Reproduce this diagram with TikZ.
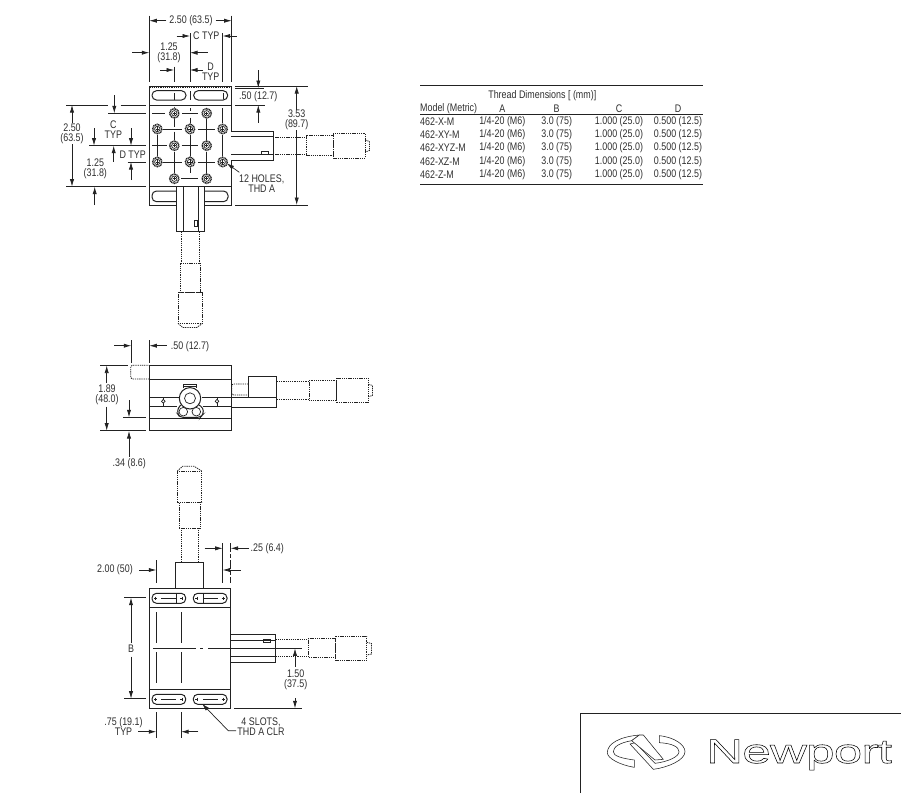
\documentclass[tikz,border=0pt]{standalone}
\usepackage{fontspec}
\setmainfont[FakeStretch=0.81]{Liberation Sans}
\newfontfamily\logofont[FakeStretch=1.5,FakeBold=1.6,LetterSpace=-2]{Liberation Sans}
\usetikzlibrary{arrows.meta}
\definecolor{ink}{HTML}{222222}
\definecolor{txt}{HTML}{2E2E2E}
\tikzset{
 x=1pt,y=-1pt,
 ln/.style={draw=ink,line width=0.7pt},
 thick line/.style={draw=ink,line width=1pt},
 dsh/.style={draw=ink,line width=0.8pt,dash pattern=on 1.3pt off 0.9pt},
 cl/.style={draw=ink,line width=0.8pt},
 dim/.style={draw=ink,line width=0.7pt,-{Latex[length=7.5pt,width=4.2pt]}},
 lbl/.style={inner sep=0pt,text=txt,font=\fontsize{11}{10}\selectfont,align=center},
 tbl/.style={inner sep=0pt,text=txt,font=\fontsize{11}{10}\selectfont},
 logoline/.style={draw=ink,line width=0.55pt,line join=round,fill=white},
}
\newcommand{\slotbox}[4]{\draw[thick line,rounded corners=4.5pt] (#1,#3) rectangle (#2,#4);}
\begin{document}
\begin{tikzpicture}
\useasboundingbox (0,0) rectangle (901,793);
% ---------- TOP VIEW ----------
\draw[thick line] (149.3,86) rectangle (231.5,205);
\draw[thick line] (149.3,105) -- (231.5,105) (149.3,186.7) -- (231.5,186.7);
\draw[dsh] (149.3,87.6) -- (231.5,87.6);
\slotbox{152}{186}{90.7}{100}
\slotbox{193.7}{227.7}{90.7}{100}
\draw[thick line,rounded corners=4.5pt] (176.7,191) -- (152,191) -- (152,201.7) -- (176.7,201.7);
\draw[thick line,rounded corners=4.5pt] (203.5,191) -- (228,191) -- (228,201.7) -- (203.5,201.7);
\draw[cl] (190,91) -- (190,100) (174.3,93) -- (174.3,100) (223,93) -- (223,98.5);
\draw[cl] (152,113.3) -- (165,113.3) (182.3,113.3) -- (198.3,113.3)
 (163.3,129) -- (181.7,129) (198.3,129) -- (215,129)
 (152,145.7) -- (166.7,145.7) (181.7,145.7) -- (198.3,145.7)
 (163.3,162) -- (181.7,162) (198.3,162) -- (215,162)
 (181,178.7) -- (198.3,178.7)
 (174.3,106.5) -- (174.3,109) (174.3,118) -- (174.3,127) (174.3,131.7) -- (174.3,140) (174.3,151.7) -- (174.3,173)
 (190,108) -- (190,111) (190,117.7) -- (190,124) (190,135) -- (190,156.7) (190,166.7) -- (190,173)
 (206.7,117) -- (206.7,140) (206.7,151.7) -- (206.7,173)
 (157.3,135) -- (157.3,156.7)
 (222.7,108) -- (222.7,123.3) (222.7,135) -- (222.7,156.7);
\foreach \hx/\hy in {174.3/113.3,206.7/113.3,157.3/129,190/129,222.7/129,174.3/145.7,206.7/145.7,157.3/162,190/162,222.7/162,174.3/178.7,206.7/178.7}{
 \fill[white] (\hx,\hy) circle[radius=5.6];
 \draw[draw=ink,line width=1.5pt,dash pattern=on 1pt off 0.6pt] (\hx,\hy) circle[radius=4.7];
 \draw[draw=ink,line width=0.7pt] (\hx,\hy) circle[radius=2.7];
 \draw[draw=ink,line width=0.6pt] (\hx-1.6,\hy) -- (\hx+1.6,\hy) (\hx,\hy-1.6) -- (\hx,\hy+1.6);
}
% right actuator
\fill[white] (231,131.7) rectangle (273,160.3);
\draw[thick line] (231,131.7) -- (273,131.7) -- (273,160.3) -- (231,160.3);
\draw[ln] (231,136.7) -- (273,136.7) (231,154.5) -- (273,154.5);
\draw[ln] (261,151.3) rectangle (268,154.5);
\draw[dsh] (273,137) -- (306.7,137) (273,154.3) -- (306.7,154.3);
\draw[dsh] (306.7,135.3) rectangle (333.3,155.7);
\draw[dsh] (333.3,133.7) rectangle (365.3,158);
\draw[dsh] (365.3,140) -- (369.5,141.5) -- (369.5,150.5) -- (365.3,152);
% lower actuator
\fill[white] (176.7,187.2) rectangle (204,231.7);
\draw[thick line] (176.7,187.2) -- (176.7,231.7) -- (204,231.7) -- (204,187.2);
\draw[ln] (183.3,187.2) -- (183.3,231.7) (198.7,187.2) -- (198.7,231.7);
\draw[ln] (194.3,220) rectangle (197.7,226.7);
\draw[dsh] (181.7,231.7) -- (181.7,263.3) (199.3,231.7) -- (199.3,263.3);
\draw[dsh] (180.3,263.3) rectangle (200.7,292);
\draw[dsh] (178,292) rectangle (202.7,323.3);
\draw[dsh] (178,323.3) -- (182.7,327.5) -- (196.7,327.5) -- (202.7,323.3);
% top-view dimensions
\draw[ln] (149.3,15.7) -- (149.3,81.7) (231.7,15.7) -- (231.7,81.7) (190,33) -- (190,81.7) (222.7,33) -- (222.7,81.7) (174,66.7) -- (174,81.7);
\node[lbl] (w250) at (191,20.7) {2.50 (63.5)};
\draw[dim] (w250.west)+(-3,0) -- (149.3,20.7);
\draw[dim] (w250.east)+(3,0) -- (231.7,20.7);
\node[lbl] (ctyp) at (206.3,36) {C TYP};
\draw[dim] (176.7,36) -- (190,36);
\draw[dim] (236.7,36) -- (222.7,36);
\node[lbl] (w125) at (169,52.5) {1.25\\(31.8)};
\draw[dim] (132.3,52.7) -- (149.3,52.7);
\draw[dim] (207.7,52.7) -- (190,52.7);
\node[lbl] (dtyp) at (210.7,71.3) {D\\TYP};
\draw[dim] (160,70) -- (174,70);
\draw[dim] (203,70) -- (190,70);
\draw[ln] (235,86) -- (308,86) (235,88) -- (264,88) (235,105) -- (265,105) (235,205) -- (308,205);
\node[lbl] (h50) at (258.3,96.7) {.50 (12.7)};
\draw[dim] (258.3,70) -- (258.3,88);
\draw[dim] (258.3,122.7) -- (258.3,105);
\node[fill=white,inner sep=1pt,lbl] (h353) at (296.7,119.7) {3.53\\(89.7)};
\draw[dim] (296.7,110) -- (296.7,86);
\draw[dim] (296.7,130) -- (296.7,205);
\draw[ln] (66,105) -- (108,105) (120.7,105) -- (145.7,105) (66,186.7) -- (145.7,186.7) (108,113.3) -- (145.7,113.3) (89.3,145.7) -- (145.7,145.7) (127.7,162) -- (145.7,162);
\node[lbl] (h250) at (72,133.7) {2.50\\(63.5)};
\draw[dim] (72,123) -- (72,105);
\draw[dim] (72,144) -- (72,186.7);
\draw[dim] (114.3,95) -- (114.3,113.3);
\node[lbl] (cleft) at (113.3,129.5) {C\\TYP};
\draw[dim] (94,128.3) -- (94,145.7);
\draw[dim] (131,128.3) -- (131,145.7);
\draw[dim] (113.7,161.7) -- (113.7,145.7);
\node[lbl] (dleft) at (132.7,154.3) {D TYP};
\draw[dim] (131,180) -- (131,162);
\node[lbl] (h125) at (95.3,168.7) {1.25\\(31.8)};
\draw[dim] (94.7,205) -- (94.7,186.7);
\node[lbl] (holes) at (261.7,183.7) {12 HOLES,\\THD A};
\draw[dim] (239.3,172.3) -- (226.7,163.3);
% ---------- SIDE VIEW ----------
\draw[thick line] (149.3,365.3) rectangle (231.3,430.7);
\draw[ln] (149.3,379) -- (231.3,379) (149.3,418.3) -- (231.3,418.3);
\draw[thick line] (149.3,397.3) -- (179,397.3) (201.7,397.3) -- (276.7,397.3);
\draw[ln] (149.3,406.3) -- (177,406.3) (202.7,406.3) -- (231.3,406.3);
\draw[dsh,rounded corners=1.5pt] (149.3,379) -- (130.7,379) -- (130.7,365.3) -- (149.3,365.3);
\draw[thick line,fill=white,rounded corners=3pt] (181,405) -- (177.7,408) -- (177.7,414) -- (180,417.3) -- (200.5,417.3) -- (203.3,414) -- (203.3,408) -- (199,405);
\draw[thick line] (183.3,388) -- (183.3,384.3) -- (196.7,384.3) -- (196.7,388) (183.3,386.6) -- (196.7,386.6);
\draw[thick line,fill=white] (190,398.3) circle[radius=10.7];
\draw[ln] (190,398.3) circle[radius=5.5];
\draw[ln,fill=white] (183.3,411.7) circle[radius=4.3] (196.3,411.7) circle[radius=4.3];
\foreach \dx in {163.3,217}{
 \draw[ln] (\dx,397.3) -- (\dx,406.3);
 \draw[ln,fill=white] (\dx,399.4) -- (\dx+1.8,401.3) -- (\dx,403.2) -- (\dx-1.8,401.3) -- cycle;
}
\draw[thick line] (231.3,407.3) -- (276.7,407.3) -- (276.7,376.3) -- (248.3,376.3) -- (248.3,397.3);
\draw[dsh,rounded corners=2pt] (248.3,384) -- (231.7,384) -- (231.7,395) -- (248.3,395);
\draw[dsh] (276.7,381.7) -- (309,381.7) (276.7,399) -- (309,399);
\draw[dsh] (309,380) rectangle (336.7,400.3);
\draw[dsh] (336.7,378) rectangle (368.3,402.3);
\draw[dsh] (368.3,384.3) -- (372.5,385.5) -- (372.5,395.5) -- (368.3,396.7);
% side dimensions
\draw[ln] (131.3,340) -- (131.3,362.7) (149.3,340) -- (149.3,362.7) (100,365.3) -- (128,365.3) (100,430.7) -- (145.7,430.7) (123.3,417.3) -- (145.7,417.3);
\node[lbl] (s50) at (190,346.7) {.50 (12.7)};
\draw[dim] (114.3,345.7) -- (131.3,345.7);
\draw[dim] (166.7,345.7) -- (149.3,345.7);
\node[lbl] (s189) at (107,395.2) {1.89\\(48.0)};
\draw[dim] (106.7,383) -- (106.7,365.5);
\draw[dim] (106.7,406.7) -- (106.7,430.7);
\draw[dim] (129,400) -- (129,417.3);
\draw[dim] (129,456.7) -- (129,431);
\node[lbl] (s34) at (129.3,463.3) {.34 (8.6)};
% ---------- BOTTOM VIEW ----------
\draw[thick line] (149,588.7) rectangle (230.7,708.3);
\draw[thick line] (149,607.3) -- (230.7,607.3) (149,689) -- (230.7,689);
\foreach \sy/\sb in {593.3/603.3,694.3/704.3}{
 \slotbox{152}{185.7}{\sy}{\sb}
 \slotbox{193.3}{227}{\sy}{\sb}
 \draw[cl] (161,\sy/2+\sb/2) -- (176,\sy/2+\sb/2) (203,\sy/2+\sb/2) -- (217.5,\sy/2+\sb/2);
 \foreach \cx in {155.5,181.8,196.8,223.3}{
  \draw[draw=ink,line width=0.6pt] (\cx-1.6,\sy/2+\sb/2) -- (\cx+1.6,\sy/2+\sb/2) (\cx,\sy/2+\sb/2-1.6) -- (\cx,\sy/2+\sb/2+1.6);
 }
}
\draw[ln] (176.5,593.3) -- (176.5,603.3) (203.5,593.3) -- (203.5,603.3);
\draw[thick line] (175.3,588.7) -- (175.3,562) -- (203.3,562) -- (203.3,588.7);
\draw[dsh] (181,562) -- (181,528.3) (198.3,562) -- (198.3,528.3);
\draw[dsh] (179.3,528.3) rectangle (200,502.3);
\draw[dsh] (177.3,502.3) rectangle (201.7,471);
\draw[dsh] (177.3,471) -- (182.7,466.2) -- (194,466.2) -- (201.7,471);
\draw[cl] (156.3,612.3) -- (156.3,643.3) (156.3,652.3) -- (156.3,683.3) (181,612.3) -- (181,643.3) (181,652.3) -- (181,683.3);
\draw[cl] (153.3,648.3) -- (196,648.3) (200,648.3) -- (203,648.3) (208,648.3) -- (301.7,648.3);
\draw[thick line] (230.7,634) -- (275.3,634) -- (275.3,662.3) -- (230.7,662.3);
\draw[ln] (230.7,640) -- (275.3,640) (230.7,656.7) -- (275.3,656.7);
\draw[ln] (263.3,639.7) rectangle (270,642.7);
\draw[dsh] (275.3,639.3) -- (308.3,639.3) (275.3,656.7) -- (308.3,656.7);
\draw[dsh] (308.3,638) rectangle (335.7,657.3);
\draw[dsh] (335.7,636) rectangle (366.7,660.7);
\draw[dsh] (366.7,642.3) -- (371.5,643.5) -- (371.5,654) -- (366.7,655);
% bottom dimensions
\draw[ln] (222.7,543.3) -- (222.7,583.3) (156.3,560) -- (156.3,583.3) (124,597.7) -- (145.7,597.7) (124,698.7) -- (145.7,698.7) (234,708.3) -- (301.7,708.3) (156.3,712.3) -- (156.3,738.3) (181,712.3) -- (181,738.3);
\draw[ln,dash pattern=on 9pt off 2pt on 4pt off 2pt] (230.7,543.3) -- (230.7,583.3);
\node[lbl] (b25) at (267.3,548.6) {.25 (6.4)};
\draw[dim] (204.7,548.3) -- (222.7,548.3);
\draw[dim] (249,548.3) -- (230.7,548.3);
\node[lbl] (b200) at (115,570) {2.00 (50)};
\draw[dim] (139,570) -- (156.3,570);
\draw[dim] (240.7,570) -- (222.7,570);
\node[lbl] (bB) at (131,648.3) {B};
\draw[dim] (131,643) -- (131,597.7);
\draw[dim] (131,656.7) -- (131,698.7);
\node[lbl] (b150) at (295.7,679.5) {1.50\\(37.5)};
\draw[dim] (295,666.7) -- (295,648.3);
\draw[dim] (295,698) -- (295,708.3);
\node[lbl] (b75) at (123.5,726.7) {.75 (19.1)\\TYP};
\draw[dim] (138.3,731.7) -- (156.3,731.7);
\draw[dim] (198.3,731.7) -- (181,731.7);
\node[lbl] (slots) at (261,726.7) {4 SLOTS,\\THD A CLR};
\coordinate (slotbend) at (228.3,730.7);
\draw[dim] (236,730.7) -- (slotbend) -- (202,703.7);
% ---------- TABLE ----------
\draw[thick line] (420,85.7) -- (703,85.7) (420,114) -- (703,114) (420,184) -- (703,184);
\node[tbl] (title) at (542.3,95.8) {Thread Dimensions [ (mm)]};
\node[tbl,anchor=west] (hm) at (420,108.8) {Model (Metric)};
\node[tbl] (ha) at (502.3,108.8) {A};
\node[tbl] (hb) at (556.7,108.8) {B};
\node[tbl] (hc) at (619,108.8) {C};
\node[tbl] (hd) at (678,108.8) {D};
\foreach \mo/\ry [count=\i] in {462-X-M/121.6,462-XY-M/134.3,462-XYZ-M/147.6,462-XZ-M/161.3,462-Z-M/175}{
 \node[tbl,anchor=west] (m\i) at (420,\ry) {\mo};
 \node[tbl] (a\i) at (502.3,\ry) {1/4-20 (M6)};
 \node[tbl] (b\i) at (556.7,\ry) {3.0 (75)};
 \node[tbl] (c\i) at (619,\ry) {1.000 (25.0)};
 \node[tbl] (d\i) at (678,\ry) {0.500 (12.5)};
}
% ---------- LOGO ----------
\draw[draw=ink,line width=0.9pt] (580,793) -- (580,713.3) -- (901,713.3);
\begin{scope}[shift={(600,730)},x=0.3333pt,y=-0.3333pt]
\draw[logoline] (178,17) .. controls (225,22) and (255,45) .. (255,65) .. controls (255,90) and (205,112) .. (160,118) -- (90,42) -- (106,38) -- (165,100) .. controls (205,95) and (237,80) .. (237,65) .. controls (237,50) and (215,40) .. (178,38) -- cycle;
\draw[logoline] (118,15) .. controls (60,20) and (22,40) .. (22,68) .. controls (22,85) and (60,105) .. (103,112) -- (103,90) .. controls (65,85) and (40,78) .. (40,65) .. controls (40,50) and (60,38) .. (95,32) -- cycle;
\draw[logoline] (95,32) -- (118,15) -- (130,15) -- (190,88) -- (165,90) -- cycle;
\end{scope}
\node[inner sep=0pt,anchor=base west] (logo) at (706,763) {\logofont\fontsize{34}{34}\selectfont\special{pdf:code 1 1 1 rg}Newport\special{pdf:code 0 0 0 rg}};
\end{tikzpicture}
\end{document}
